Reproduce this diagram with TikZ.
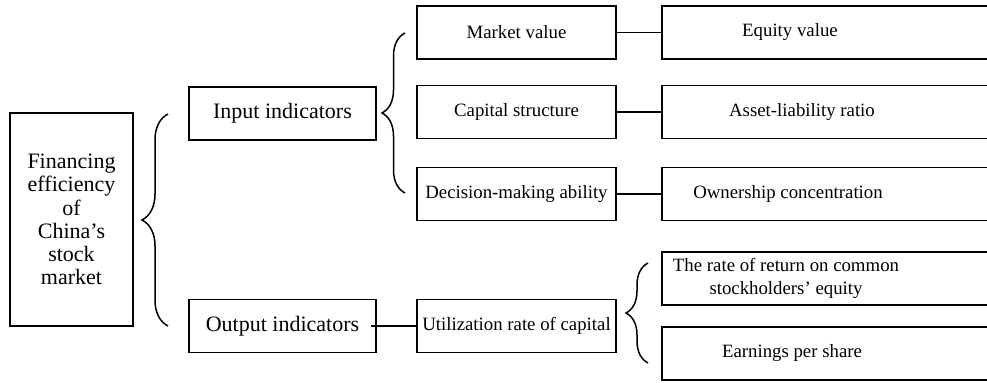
\documentclass[tikz,border=0pt]{standalone}
\usepackage{fontspec}
\setmainfont{Liberation Serif}
\usetikzlibrary{decorations.pathreplacing}
\begin{document}
\begin{tikzpicture}[x=0.5pt,y=-0.5pt,
  line width=0.75pt,
  bigtxt/.style={font=\fontsize{11}{11.6}\selectfont},
  smalltxt/.style={font=\fontsize{9.4}{11.3}\selectfont},
  box/.style={draw, rectangle, inner sep=0pt},
  leftbox/.style={box, minimum width=93.5pt, minimum height=26.5pt, bigtxt},
  midbox/.style={box, minimum width=99.5pt, minimum height=26.5pt, smalltxt},
  rightbox/.style={box, minimum width=169pt, minimum height=26.5pt},
  rtext/.style={smalltxt, align=center, inner sep=0pt},
  curly/.style={decorate, decoration={brace, amplitude=#1}}
]
\useasboundingbox (0,0) rectangle (987,383);
\clip (0,0) rectangle (987,383);

% root
\node[box, minimum width=61.5pt, minimum height=106.5pt, bigtxt, align=center]
  (root) at (71.5,219.5) {Financing\\efficiency\\of\\China’s\\stock\\market};

% first level
\node[leftbox] (inp) at (282.5,113.5) {Input indicators};
\node[leftbox] (outp) at (282.5,326) {Output indicators};

% second level
\node[midbox] (mv) at (516.5,32.5) {Market value};
\node[midbox] (cs) at (516.5,112) {Capital structure};
\node[midbox] (dm) at (516.5,194) {Decision-making ability};
\node[midbox] (ur) at (516.5,326) {Utilization rate of capital};

% third level (boxes run past the right edge)
\node[rightbox] (ev) at (831,32.5) {};
\node[rightbox] (al) at (831,112) {};
\node[rightbox] (oc) at (831,194) {};
\node[rightbox] (rr) at (831,278.5) {};
\node[rightbox] (ep) at (831,353.5) {};
\node[rtext] (evt) at (790,32.5) {Equity value};
\node[rtext] (alt) at (802,112) {Asset-liability ratio};
\node[rtext] (oct) at (788,194) {Ownership concentration};
\node[rtext] (rrt) at (786,278.5) {The rate of return on common\\stockholders’ equity};
\node[rtext] (ept) at (792,353.5) {Earnings per share};

% connectors
\draw (mv.east) -- (ev.west);
\draw (cs.east) -- (al.west);
\draw (dm.east) -- (oc.west);
\draw ([xshift=-3pt]outp.east) -- (ur.west);

% braces
\coordinate (b1a) at (168,326);
\coordinate (b1b) at (168,114);
\coordinate (b2a) at (405,193);
\coordinate (b2b) at (405,33);
\coordinate (b3a) at (648,363);
\coordinate (b3b) at (648,263);
\draw[curly=13pt] (b1a) -- (b1b);
\draw[curly=11.5pt] (b2a) -- (b2b);
\draw[curly=11pt] (b3a) -- (b3b);
\end{tikzpicture}
\end{document}
